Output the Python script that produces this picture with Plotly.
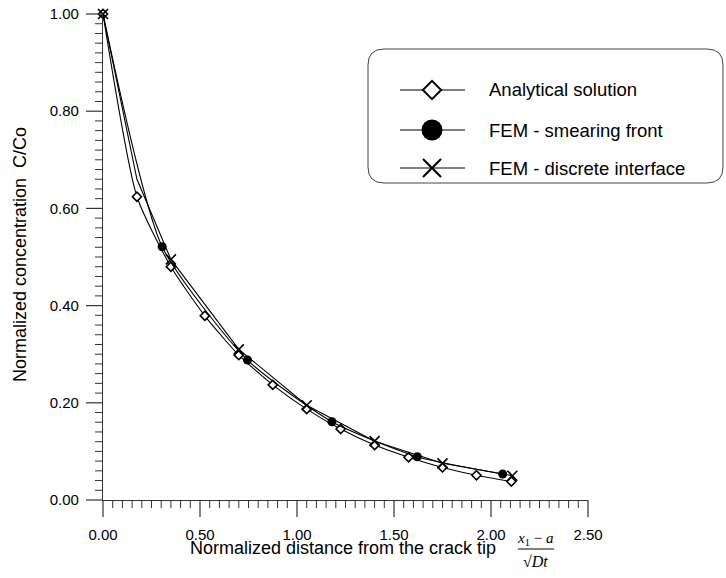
import plotly.graph_objects as go

# ---------------- data ----------------
ana_x = [0.0, 0.175, 0.35, 0.525, 0.70, 0.875, 1.05, 1.225, 1.40, 1.575, 1.75, 1.925, 2.105]
ana_y = [1.0, 0.624, 0.480, 0.379, 0.298, 0.237, 0.187, 0.146, 0.113, 0.088, 0.067, 0.051, 0.038]

smear_x = [0.0, 0.305, 0.745, 1.18, 1.62, 2.06]
smear_y = [1.0, 0.521, 0.288, 0.161, 0.089, 0.0535]
smear_marked = [1, 2, 3, 4, 5]

disc_x = [0.0, 0.175, 0.35, 0.70, 1.05, 1.40, 1.75, 2.11]
disc_y = [1.0, 0.660, 0.495, 0.310, 0.195, 0.121, 0.0755, 0.050]
disc_marked = [0, 2, 3, 4, 5, 6, 7]

names = ["Analytical solution", "FEM - smearing front", "FEM - discrete interface"]

FONT = "Liberation Sans, Arial, sans-serif"
W, H = 726, 578
L, R, T, B = 103, 138, 14, 78
PW, PH = W - L - R, H - T - B
XR, YR = 2.5, 1.0
X_MAJOR, X_MINOR = 0.5, 0.05
Y_MAJOR, Y_MINOR = 0.2, 0.02
TICK_MAJ, TICK_MIN = 17, 8
AXC = "#333"


def px(x):
    return (x - L) / PW


def py(y):
    return (H - B - y) / PH


fig = go.Figure()

# curves
fig.add_trace(go.Scatter(x=ana_x, y=ana_y, mode="lines+markers", line=dict(color="black", width=1.1, shape="spline", smoothing=0.6),
                         marker=dict(symbol="diamond", size=7, color="white", line=dict(color="black", width=1.6)),
                         showlegend=False, cliponaxis=False))
fig.add_trace(go.Scatter(x=smear_x, y=smear_y, mode="lines", line=dict(color="black", width=1.1, shape="spline", smoothing=0.6),
                         showlegend=False, cliponaxis=False))
fig.add_trace(go.Scatter(x=[smear_x[i] for i in smear_marked], y=[smear_y[i] for i in smear_marked], mode="markers",
                         marker=dict(symbol="circle", size=9, color="black"), showlegend=False, cliponaxis=False))
fig.add_trace(go.Scatter(x=disc_x, y=disc_y, mode="lines", line=dict(color="black", width=1.1),
                         showlegend=False, cliponaxis=False))
fig.add_trace(go.Scatter(x=[disc_x[i] for i in disc_marked], y=[disc_y[i] for i in disc_marked], mode="markers",
                         marker=dict(symbol="x-thin-open", size=10, color="black", line=dict(color="black", width=1.6)),
                         showlegend=False, cliponaxis=False))

shapes = []

# ---------------- axis ticks (drawn from the axis tick spacing) ----------------
nx = int(round(XR / X_MINOR))
for i in range(nx + 1):
    major = i % int(round(X_MAJOR / X_MINOR)) == 0
    ln = TICK_MAJ if major else TICK_MIN
    xv = i * X_MINOR / XR
    shapes.append(dict(type="line", xref="paper", yref="paper", x0=xv, x1=xv, y0=0, y1=-ln / PH,
                       line=dict(color=AXC, width=1.2 if major else 1)))
ny = int(round(YR / Y_MINOR))
for i in range(ny + 1):
    major = i % int(round(Y_MAJOR / Y_MINOR)) == 0
    ln = TICK_MAJ if major else TICK_MIN
    yv = i * Y_MINOR / YR
    shapes.append(dict(type="line", xref="paper", yref="paper", x0=0, x1=-ln / PW, y0=yv, y1=yv,
                       line=dict(color=AXC, width=1.2 if major else 1)))

# ---------------- custom legend ----------------
bx0, bx1, by0, by1, rad = 368, 723, 49, 183, 16
path = (f"M {px(bx0+rad)} {py(by0)} L {px(bx1-rad)} {py(by0)} "
        f"Q {px(bx1)} {py(by0)} {px(bx1)} {py(by0+rad)} L {px(bx1)} {py(by1-rad)} "
        f"Q {px(bx1)} {py(by1)} {px(bx1-rad)} {py(by1)} L {px(bx0+rad)} {py(by1)} "
        f"Q {px(bx0)} {py(by1)} {px(bx0)} {py(by1-rad)} L {px(bx0)} {py(by0+rad)} "
        f"Q {px(bx0)} {py(by0)} {px(bx0+rad)} {py(by0)} Z")
shapes.append(dict(type="path", xref="paper", yref="paper", path=path, line=dict(color="#444", width=1), layer="below"))
rows = [90, 130, 168]
for ry in rows:
    shapes.append(dict(type="line", xref="paper", yref="paper", x0=px(400), x1=px(465), y0=py(ry), y1=py(ry),
                       line=dict(color="black", width=1.1), layer="below"))
annotations = []
for ry, nm in zip(rows, names):
    annotations.append(dict(xref="paper", yref="paper", x=px(487), y=py(ry), text=nm, showarrow=False,
                            xanchor="left", yanchor="middle", font=dict(family=FONT, size=18.5, color="black")))

# legend glyph markers placed on main axes (pixel -> data)
lg_sym = [dict(symbol="diamond", size=14, color="white", line=dict(color="black", width=2)),
          dict(symbol="circle", size=21, color="black"),
          dict(symbol="x-thin-open", size=18, color="black", line=dict(color="black", width=2))]
for ry, mk in zip(rows, lg_sym):
    fig.add_trace(go.Scatter(x=[px(432) * XR], y=[py(ry) * YR], mode="markers", showlegend=False,
                             marker=mk, cliponaxis=False, hoverinfo="skip"))

# axis titles
annotations.append(dict(xref="paper", yref="paper", x=px(498), y=py(548), text="Normalized distance from the crack tip",
                        showarrow=False, xanchor="right", yanchor="middle", font=dict(family=FONT, size=18, color="black")))
annotations.append(dict(xref="paper", yref="paper", x=px(535), y=py(539),
                        text="<i>x</i><sub>1</sub> − <i>a</i>", showarrow=False, xanchor="center", yanchor="middle",
                        font=dict(family="Liberation Serif, Times New Roman, serif", size=15, color="black")))
annotations.append(dict(xref="paper", yref="paper", x=px(535), y=py(561),
                        text="√<i>Dt</i>", showarrow=False, xanchor="center", yanchor="middle",
                        font=dict(family="Liberation Serif, Times New Roman, serif", size=16, color="black")))
shapes.append(dict(type="line", xref="paper", yref="paper", x0=px(518), x1=px(554), y0=py(549), y1=py(549),
                   line=dict(color="black", width=1)))
annotations.append(dict(xref="paper", yref="paper", x=px(20), y=py(255), text="Normalized concentration  C/Co",
                        textangle=-90, showarrow=False, xanchor="center", yanchor="middle",
                        font=dict(family=FONT, size=18, color="black")))

fig.update_layout(
    width=W, height=H, margin=dict(l=L, r=R, t=T, b=B, autoexpand=False),
    paper_bgcolor="white", plot_bgcolor="white",
    font=dict(family=FONT, size=14, color="black"),
    shapes=shapes, annotations=annotations, showlegend=False,
    xaxis=dict(range=[0, XR], tickmode="linear", tick0=0, dtick=X_MAJOR, tickformat=".2f", automargin=False,
               showgrid=False, zeroline=False, showline=True, linecolor=AXC, linewidth=1.2,
               ticks="", ticklabelstandoff=21,
               tickfont=dict(family=FONT, size=15, color="black")),
    yaxis=dict(range=[0, YR], tickmode="linear", tick0=0, dtick=Y_MAJOR, tickformat=".2f", automargin=False,
               showgrid=False, zeroline=False, showline=True, linecolor=AXC, linewidth=1.2,
               ticks="", ticklabelstandoff=20,
               tickfont=dict(family=FONT, size=15, color="black")),
)

fig.write_html("out.html")
